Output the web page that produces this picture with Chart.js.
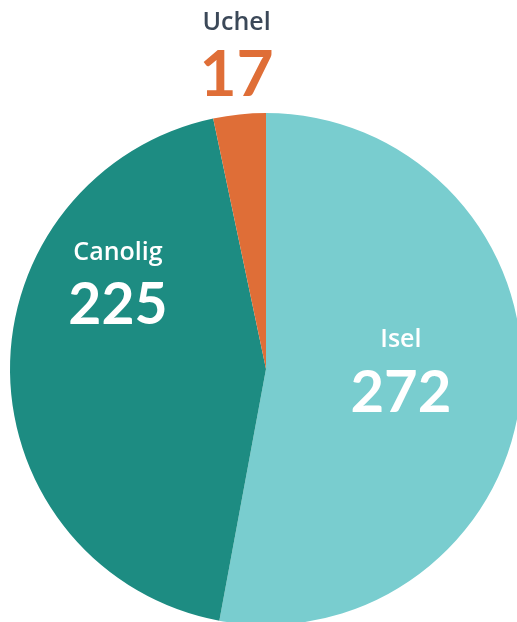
<!DOCTYPE html>
<html>
<head>
<meta charset="utf-8">
<script src="https://cdn.jsdelivr.net/npm/chart.js@4.4.1/dist/chart.umd.min.js"></script>
<style>
html,body{margin:0;padding:0;background:#fff;}
#wrap{width:517px;height:622px;position:relative;}
</style>
</head>
<body>
<div id="wrap"><canvas id="c" width="517" height="622"></canvas></div>
<script>
const categories = ["Isel", "Canolig", "Uchel"];
const values = [272, 225, 17];
const colors = ["#79CDCF", "#1D8C82", "#DF6E37"];

// label placement: fraction along arc angle, fraction of radius
const labelAngleFrac = [0.464, 0.705, 0.56];
const labelRadiusFrac = [0.527, 0.679, 1.26];
const labelColors = ["#ffffff", "#ffffff", "#3B4858"];
const valueColors = ["#ffffff", "#ffffff", "#DF6E37"];
const valueSizes = [58, 57, 64];

const LABEL_FONT = "'Open Sans', Lato, sans-serif";
const VALUE_FONT = "Lato, 'Open Sans', sans-serif";

const labelPlugin = {
  id: 'sliceLabels',
  afterDatasetsDraw(chart) {
    const ctx = chart.ctx;
    const meta = chart.getDatasetMeta(0);
    meta.data.forEach((arc, i) => {
      const p = arc.getProps(['x','y','startAngle','endAngle','outerRadius'], true);
      const a = p.startAngle + (p.endAngle - p.startAngle) * labelAngleFrac[i];
      const r = p.outerRadius * labelRadiusFrac[i];
      const cx = p.x + Math.cos(a) * r;
      const cy = p.y + Math.sin(a) * r;
      ctx.save();
      ctx.textAlign = 'center';
      ctx.textBaseline = 'middle';
      ctx.fillStyle = labelColors[i];
      ctx.font = "600 25px " + LABEL_FONT;
      ctx.fillText(categories[i], cx, cy - 25);
      ctx.fillStyle = valueColors[i];
      ctx.font = "bold " + valueSizes[i] + "px " + VALUE_FONT;
      ctx.fillText(String(values[i]), cx, cy + 28);
      ctx.restore();
    });
  }
};

new Chart(document.getElementById('c'), {
  type: 'pie',
  data: {
    labels: categories,
    datasets: [{
      data: values,
      backgroundColor: colors,
      borderWidth: 0,
      radius: 256
    }]
  },
  options: {
    responsive: false,
    animation: false,
    layout: { padding: { left: 15, right: 0, top: 116, bottom: 0 } },
    plugins: { legend: { display: false }, tooltip: { enabled: false } }
  },
  plugins: [labelPlugin]
});
</script>
</body>
</html>
